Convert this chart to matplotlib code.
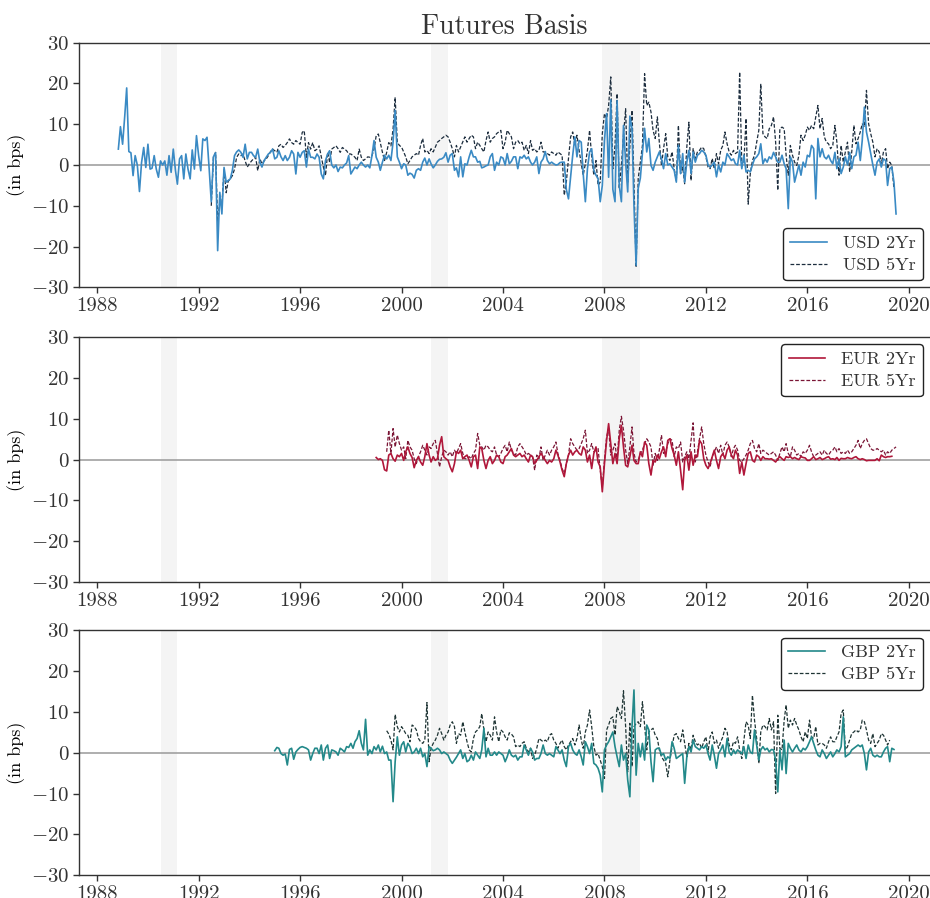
import numpy as np
import pandas as pd
import matplotlib
matplotlib.use("Agg")
import matplotlib.pyplot as plt
import matplotlib.dates as mdates

plt.rcParams["font.family"] = "serif"
plt.rcParams["font.serif"] = ["cmr10"]
plt.rcParams["mathtext.fontset"] = "cm"
plt.rcParams["axes.formatter.use_mathtext"] = True
plt.rcParams["text.color"] = "#333333"
plt.rcParams["xtick.color"] = "#333333"
plt.rcParams["ytick.color"] = "#333333"

# monthly basis series, in bps
usd_2yr_start = "1988-11-01"
usd_2yr = [
    3.9, 9.4, 5.1, 12, 18.9, 3.3, 3.0, -2.6, 2.3, 0,
    -6.5, 0.6, 4.3, -0.6, 5.1, -1, -0.8, 2.3, -1, -3,
    1, 0, 1, -2.5, 2.3, -1.8, 3.9, -1.3, -4.7, 1.5,
    2.3, -3.4, 2.7, -1, -3.4, 3.7, -1, 7.2, 2.3, -1.4,
    6.4, 6.0, 6.8, -1, -9, 2, 3, -21, -6.7, -12,
    -0.6, -4.2, -3.8, -3.4, -1.3, 2.3, 3.2, 3.7, 3.1, 1.9,
    5.1, 1.5, 3.1, 3.1, 2.3, 1.9, 3.9, 0.7, -0.5, 1.1,
    1.9, 2.7, 3.1, 3.9, 1.5, 1.9, 3.5, 2.0, 1.1, 2.3,
    1.1, 1.9, 3.5, 2.7, -2.2, 3.1, 1.9, 3.1, 3.5, -0.5,
    3.9, 1.9, 1.9, 1.5, 2.7, 1.9, -2.2, -3.4, 1.1, 2.7,
    3.5, 0, -0.7, 0, -1.6, -0.5, -0.7, 0, 0.5, 2.3,
    -2.2, -1.3, -0.5, -0.9, 0, 0.7, 0, -0.5, 0, -0.7,
    2.3, 6, 1.9, 0.7, -1.3, 0.7, 2.4, 1.5, 2.4, 1.1,
    5.6, 13.4,
    2, 0.7, -0.9, 0.3, 0, -2.5, -2, -2.3, -3.2, -1.3,
    -0.9, -1.3, 0.7, 1.7, 0, 1.5, 0.3, -0.7, 0, 0.9,
    1.4, 1.5, 1.9, 3, 0.7, 2.4, 2.8, -1.3, -0.7, -2.9,
    2, -2.9, 0.3, 0, 2, 3.6, 2, 2, 0.7, 0.9,
    -0.7, -0.5, -0.2, 0, 2, 2.8, -1.3, 0.7, 0, 2,
    1.7, 0, 2.8, 0.3, 0.9, 2, 2, -0.9, 2, 1.7,
    2.4, 1.5, 2, 0.7, 0, 0.7, 2, -2.1, 0.7, 1.5,
    3.3, 1.1, 0.3, 0.7, 0.3, 0, 0.1, 0.6, 0.7, 0.7,
    -6, -8.3, -3, 2.4, 6.9, 2, 6, 5.6, -2.1, -9,
    -0.9, 3.2, 4, -1.3, -2.5, -3.3, -9, -5, 6, 12.6,
    -3, 16, -6, -9, 15.8, -5, -9, 9.7, 0.7, -6.6,
    12, 8.9, -10, -24.6, -5.7, -3.2, 3, 9, 3.2, 6.5,
    -0.1, -1.3, 0.7, 2, 3.2, 1.5, -0.9, 2.8, 0, 0.3,
    -0.5, -1.3, -4.2, 4.8, -2.1, 2.8, -4.2, 0.7, 3.6, -2.1,
    3.2, 0.7, 2.4, 2.8, 3.6, 3.2, 2.4, 0, -0.5, 0,
    0.7, -2.9, 0, -1.7, 0.7, 0, 2.8, 2, 1.1, 1.5,
    0.3, 0, 3.6, -0.9, 2.4, -1.7, -1.3, -1.7, 0, 1.5,
    2, 2.8, 5.2, 0.3, 1.5, 0.7, 2, 1.5, 3.1, 2,
    0.7, 0.7, 2.4, 0.3, -0.9, -10.7, 2, 0.7, -4.2, -2.1,
    0, -2.5, 0.7, -0.5, 2.4, 2, 4.8, 4, -8.3, 6.5,
    2, 4, 2, 1.5, 2.4, 1.1, 0.3, 3.1, -0.9, 1.5,
    -2.1, -0.5, 2, 0, 3.1, -0.9, 2, 2.4, 5.6, 1.1,
    6, 14.2, 8.1, 5.6, 2.8, 0, -2.5, 0.7, 1.5, -0.5,
    1.5, 1.1, -5, -0.9, -0.5, -4.2, -12,
]

usd_5yr_start = "1992-07-01"
usd_5yr = [
    -10, 1.9, 3.1, -14, -9, -10, -1, -6.8, -4, -3.4,
    -2.6, -1, 1.9, 2.7, 2.3, 2.7, 1, -0.5, 0.3, 1.0,
    1.5, 1.9, -1.4, 1.5, 0.3, 1.0, 1.5, 2.3, 3.3, 3.9,
    3.5, 3.1, 4.7, 5.1, 4.3, 4.8, 5.5, 6.4, 5.5, 5.1,
    6.0, 5.5, 5.1, 8, 8.4, 1.9, 5.5, 3.9, 5.5, 3.5,
    3.9, 4.7, 2.0, -0.5, -2.6, 3.1, 0.7, 3.9, 4.3, 4.7,
    4.0, 3.1, 4.3, 3.9, 3.5, 2.7, 2.7, 2.3, 1.9, 1.1,
    3.9, 1.9, 1.1, 1.5, 2.0, 1.9, 2.3, 3.9, 7.2, 7.6,
    5.5, 3.1, 1.1, 3.1, 5.5, 4.7, 8.8, 16.6,
    5.6, 4.8, 4.4, 3.2, 2.0, 0.3, 1.1, 2.0, 2.4, 2.8,
    2.4, 4.8, 6.5, 3.2, 3.6, 2.8, 4.0, 3.2, 4.4, 5.6,
    6.0, 6.5, 6.9, 7.3, 6.9, 5.6, 4.0, 2.0, 4.8, 3.2,
    4.4, 5.6, 6.9, 5.6, 6.5, 7.3, 6.9, 4.0, 5.6, 4.8,
    4.0, 3.2, 6.0, 8.1, 5.6, 6.5, 6.9, 7.7, 8.1, 8.5,
    4.0, 5.6, 8.5, 7.7, 6.9, 4.0, 5.6, 6.0, 5.2, 5.6,
    3.6, 4.8, 2.8, 6.0, 3.6, 4.0, 3.2, 3.6, 5.6, 3.2,
    3.2, 2.8, 2.4, 3.2, 2.8, 2.4, 3.2, 2.8, 2.4, -7.4,
    -4.2, 1.6, 6.9, 8.1, 4.8, 7.3, 3.6, 0.3, -2.5, 0.3,
    3.6, 8.5, 2.0, -2.5, 1.1, -5.0, -4.2, 7.7, 12.6, 11.4,
    14.6, 21.6, -0.9, 4.8, 17.5, -5.8, -0.1, 7.3, 13.8, -4.2,
    4.8, 13.4, -4.2, -25.1, -3.3, 0.7, 4.8, 22.4, 14.6, 15.4,
    13.0, 8.5, 6.5, 11.8, 5.6, -0.1, 4.0, 7.7, 2.0, 1.1,
    3.2, -0.9, -3.8, 9.7, -2.1, -0.5, -4.6, 4.4, 10.5, -3.8,
    4.0, 1.6, 3.2, 3.6, 4.4, 4.0, 2.0, -0.5, -0.9, 1.6,
    -0.9, 2.8, 0.3, 3.6, 4.8, 8.1, 5.2, 3.2, 2.4, 3.6,
    2.8, 3.2, 22.8, -0.1, 0.7, 11.4, -9.6, -2.1, 1.1, 2.4,
    5.6, 8.5, 19.9, 7.7, 6.9, 6.5, 8.9, 9.7, 11.8, 5.6,
    -6.2, 8.9, 9.3, 8.9, 2.4, -2.5, 4.8, 2.4, 0.7, -0.1,
    2.4, 7.3, 6.0, 7.3, 9.3, 8.5, 9.7, 8.9, 11.8, 14.6,
    8.9, 11.4, 6.9, 5.6, 5.2, 4.0, 4.8, 9.7, 5.6, -2.5,
    4.8, 0.7, 3.2, 5.6, -1.7, 3.2, 9.7, 5.2, 6.5, 8.1,
    10.1, 9.3, 18.3, 10.1, 7.7, 5.6, 2.0, 4.0, 3.2, 0.3,
    3.2, 4.0, -0.9, 0.7, -0.1, -5.8,
]

eur_2yr_start = "1999-01-01"
eur_2yr = [
    0.5, 0, 0.2, -0.2, -2.5, -2.8, 1.1, 1.5, 0.2, -0.4,
    1.1, 0.7, 1.5, -0.2, 1.9, 3.1, 1.5, 0.5, -2.0, -0.2,
    0.7, -0.6, -1.4, 0.7, 3.9, 1.1, -0.6, 0.7, -0.2, 0.2,
    3.5, 5.6, 0.7, 0.2, -0.2, -1.8, -3.0, -1.0, 1.9, 1.5,
    2.3, 0.2, 0.7, 1.1, -0.2, -1.8, 0.7, 1.1, -2.2, 3.1,
    2.7, -0.2, -2.2, -0.2, 0.7, -1.0, -0.2, 1.1, 0.7, -0.6,
    -1.0, 0.7, 1.1, 1.9, 2.7, 1.1, 0.7, 1.1, 1.5, 0.7,
    1.1, 0.2, -0.6, 1.1, 0.7, -1.0, -0.2, 0.7, 1.5, 0.7,
    -0.2, -1.0, -0.2, -0.6, 0.2, 2.3, 1.1, -0.6, -2.6, -4.2,
    -1.0, 1.1, 2.3, 1.1, 1.9, 2.3, 1.5, 1.1, 3.1, 2.3,
    -0.6, 1.1, -2.2, 1.5, 3.1, -0.6, -1.8, -7.9, -1.0, 4.7,
    8.8, 3.9, -1.0, 1.5, -1.0, 5.1, 8.4, 3.1, -1.4, -1.8,
    0.7, 3.5, -0.2, -1.0, -1.0, 1.9, 0.7, 4.3, 3.5,
    -1.0, -3.8, -0.2, -0.6, 1.1, 0.2, 1.9, 3.1, 0.7, 4.7,
    5.1, 2.7, 1.1, -1.4, 1.9, -2.6, -7.4, -0.2, 1.1, -2.6,
    1.9, -1.4, 1.1, 0.7, 4.7, 3.9, 0.2, -1.4, -2.2, -1.0,
    0.7, 2.3, -0.2, -2.2, 0.7, 1.5, 0.2, 2.3, 3.1, 1.1,
    0.2, 2.3, 1.1, -3.4, -0.6, -3.8, -1.0, 1.5, 1.9, -0.2,
    -0.6, 1.1, 0.7, -0.2, 0.7, 0.2, 0.2, 0.1, 0.2, -0.2,
    -0.6, 0.2, 0.7, 0.2, -0.2, 0.7, 0.5, 0.7, 0.2, 0.5,
    0.2, 0, 0.7, 0.5, 0.4, -0.2, -0.2, 0.2, 0.7, 0,
    0.2, 0.5, 0, 0.2, 0.5, 0.7, 0.1, 0.2, 0, 0.5,
    -0.2, 0.3, 0.2, 0.2, 0.5, 0.3, 0.2, 0.5, 0.7, 0.2,
    0, 0.2, 0, -0.3, -0.2, -0.2, -0.2, -0.2, 0.2, -0.3,
    1.1, 0.7, 0.5, 0.7, 0.7, 0.8,
]

eur_5yr_start = "1999-06-01"
eur_5yr = [
    1.9, 7.2, 1.5, 7.6, 3.1, 6.0, 3.9, 2.3, 3.1, 0.2,
    4.7, 3.1, 2.3, 0.2, -1.0, 0.7, 1.9, 3.5, 2.3, 1.1,
    3.1, 2.7, 3.9, 4.7, 1.5, -1.8, 0.7, 2.3, 1.9, 1.1,
    1.9, 0.7, 2.3, 1.5, 2.7, 3.9, 1.5, 0.2, 0.2, 0.7,
    0.2, 1.5, 2.3, 6.4, 3.5, 3.1, 2.3, 3.5, 3.1, 2.3,
    1.9, 3.1, 1.1, 0.7, 1.5, 2.7, 3.5, 1.9, 4.3, 2.3,
    1.5, 1.1, 3.1, 3.9, 3.1, 2.3, 1.1, 1.5, 1.1, 0.7,
    -2.6, 1.1, 0.2, 3.1, -0.2, 1.1, 2.3, 1.1, 2.3, 3.1,
    4.3, 1.5, -0.2, -2.2, -3.4, -1.0, 1.1, 5.1, 3.9, 3.1,
    2.3, 2.7, 3.9, 5.1, 7.2, 1.5, 2.3, 3.9, 1.9, 2.3,
    2.7, -2.6, -6.7, -0.2, 5.6, 7.6, 1.1, 2.3, 3.9, -0.2,
    7.2, 10.6, 7.2, 2.3, -1.0, 3.1, 8.0, 1.5, -0.6, -0.2,
    1.5, 2.3, 3.9, 5.1, 4.3,
    3.1, -1.4, 1.5, -0.2, 2.3, 6.0, 1.5, 1.9, 3.9, 5.1,
    4.7, 0.7, 3.1, 2.7, 4.3, -0.6, 0.7, 1.9, 0.2, 4.7,
    9.0, -0.6, 1.9, 5.1, 8.0, 3.9, 1.1, -0.6, -1.8, 0.7,
    1.9, 3.1, 1.5, 3.5, 1.1, 3.5, 4.3, 3.1, 0.7, 2.7,
    3.5, 2.3, -0.2, -0.6, 0.2, 1.1, 2.3, 3.9, 4.7, 2.7,
    1.9, 3.9, 1.5, 2.3, 1.9, 1.5, 1.1, 1.5, 1.9, 1.1,
    -0.2, 1.5, 3.1, 1.9, 3.9, 1.5, 0.7, 3.1, 2.3, 1.1,
    1.5, 0.7, 1.9, 1.5, 2.3, 3.5, 1.9, 0.7, 1.1, 1.5,
    1.9, 1.1, 2.3, 1.5, 1.1, 1.9, 2.3, 3.1, 1.9, 2.7,
    1.5, 1.9, 1.5, 2.3, 1.5, 1.9, 2.7, 3.5, 4.7, 2.7,
    3.9, 4.7, 5.1, 3.9, 2.7, 2.3, 2.3, 2.7, 2.3, 1.9,
    2.3, 1.1, 1.9, 1.5, 2.3, 2.7, 3.1,
]

gbp_2yr_start = "1995-01-01"
gbp_2yr = [
    0.5, 1.3, 1.1, -0.2, -0.6, -0.3, -3.0, 0.8, 1.1, -1.6,
    0.2, 0.8, 1.3, 1.5, 1.3, 1.1, 0.7, -1.8, -0.2, 1.1,
    1.1, -0.2, 1.9, -1.8, 1.1, 1.9, -1.4, 0.7, 0.5, 0.2,
    -0.6, 1.1, 0.7, 0.2, 1.5, 1.3, 2.3, 1.1, 2.7, 3.5,
    5.4, 2.3, 0.7, 8.2, -0.6, 0.7, -0.2, 1.5, 0.7, 1.9,
    0.2, 1.6, -0.2, 0.2, -1.8, -1.8, -12.0, -2.2, 3.9, -0.6,
    1.9, 2.7, 0.2, 2.3, 1.5, -0.2, 0.2, 1.1, -0.2, 1.1,
    -1.0, -0.2, -3.4, 1.5, 1.1, 0.5, 0.7, 1.1, 0.7, -0.2,
    0.2, -0.2, -0.6, -1.8, -2.6, -1.8, -1.1, -0.2,
    0.7, -1.4, -0.2, -2.2, -1.8, -0.6, -1.8, 0.2, -0.6, -1.4,
    0.7, 6.0, -1.0, 1.1, -0.6, -0.6, 0.2, -0.6, 0.2, -0.2,
    -0.6, -2.2, -1.0, 0.7, -0.6, -1.0, -0.6, -1.8, -1.0, -1.0,
    1.9, 0.7, -0.6, 1.1, 0.2, -1.8, -1.4, -1.4, -0.2, 1.9,
    -0.2, -0.6, -0.2, -0.6, -1.0, 1.5, 0.7, -0.2, 0.7, -1.8,
    -3.4, 1.5, 2.3, 0.7, -0.2, -0.6, 0.7, -1.0, -3.0, 2.7,
    1.5, -0.2, 2.3, -2.6, -3.0, -3.8, -5.5, -9.6, 0.7, 1.9,
    2.7, 3.9, 5.1, 1.5, -1.0, -3.4, 1.9, -1.8, -0.2, -6.7,
    -10.8, 6.4, 15.4, -5.5, 2.3, -1.0, 2.3, -1.8, 6.8, 5.6,
    -2.2, -7.1, 0.7, 1.1, 1.1, -0.6, -0.2, -1.8, -1.0, -1.4,
    2.7, 1.1, -1.4, -1.0, -0.6,
    -0.2, -7.5, -1.0, 1.5, 0.2, 3.1, 1.5, 1.1, 0.7, 1.5,
    1.1, 1.9, -0.2, -1.8, 1.9, -0.6, -3.8, -0.2, 0.7, 1.9,
    -1.0, 3.5, 0.2, -0.6, 0.7, -0.2, 0.7, 0.2, -0.2, 1.5,
    -1.4, 1.9, 0.2, -0.2, 5.6, 1.9, -1.8, 0.7, 1.5, 0.7,
    1.1, 0.2, 0.8, 0.7, -1.8, -9.6, 0.7, -4.2, 3.1, -5.1,
    2.3, 1.1, 0.2, 1.1, 1.9, 0.7, 0.2, 1.1, 0.7, 1.5,
    2.7, 3.9, 2.3, 0.7, -0.6, -1.0, 0.7, -0.2, -1.4, -0.6,
    0.2, -1.0, -0.2, 0.7, 0.2, 1.5, 8.8, -1.0, -0.6, -0.2,
    0.7, 1.1, 1.5, 1.9, 1.5, 1.9, -0.2, -4.2, 0.2, 1.1,
    -0.6, -1.0, -0.6, -1.0, -1.0, 0.2, 1.1, 1.5, -2.2, 1.1,
    0.8,
]

gbp_5yr_start = "1999-06-01"
gbp_5yr = [
    5.4, 4.6, 3.1, 0.7, 9.4, 6.4, 5.1, 6.4, 5.6, 4.7,
    4.3, 2.7, 6.8, 6.4, 5.6, 3.5, 2.7, 2.3, 3.1, 12.3,
    -2.2, 1.1, 2.3, 3.1, 4.3, 6.0, 4.7, 3.1, 4.3, 5.1,
    6.8, 7.6, 6.4, 2.3, 4.7, 4.3,
    7.6, 5.1, 2.7, 0.7, 0.2, 3.5, 5.1, 5.6, 6.4, 9.6,
    5.6, 2.7, 5.1, 4.3, 3.1, 8.8, 5.1, 2.7, 5.6, 5.1,
    3.9, 3.1, 4.9, 4.6, 3.9, 1.5, 1.9, 1.5, 2.3, 2.7,
    1.1, 0.2, 1.1, -1.4, -0.6, 1.1, 3.5, 3.1, 2.7, 3.1,
    2.7, 4.3, 4.7, 3.1, 2.3, 1.1, 2.3, 3.1, 1.5, 0.7,
    1.9, 2.7, 3.5, 1.9, 3.5, 6.8, 3.1, 1.1, 5.1, 6.8,
    10.5, 6.4, 1.5, -0.6, -0.2, -1.8, -3.4, -6.3, 5.6, 6.8,
    8.4, 8.8, 4.3, 11.3, 10.1, 8.4, 15.2, 6.4, -4.7, 7.2,
    -3.4, 6.4, 7.2, 7.6, 6.4, 12.5, 6.8, 0.7, 5.1, 5.6,
    6.0, 4.3, 3.5, 0.7, -1.0, -1.8, -2.6, -5.9, -1.8, 1.5,
    4.3, 4.7, 3.5,
    2.7, 5.6, 2.3, -1.0, 2.3, 0.7, 4.3, 2.7, 1.9, 2.3,
    1.1, 2.7, 3.9, 0.2, 3.9, 5.1, 2.3, 3.1, 1.1, 2.7,
    3.9, 6.0, 5.1, 1.9, 0.7, 2.7, 2.3, 3.9, 0.7, -1.4,
    3.1, 7.6, 6.8, 3.5, 14.1, 8.0, 3.5, -2.6, 5.1, 6.8,
    6.4, 5.6, 8.4, 5.6, 7.6, -10.0, 9.2, 1.1, 0.7, 8.0,
    11.7, 6.0, 8.0, 6.8, 8.4, 6.8, 5.6, 3.9, 2.7, 5.1,
    3.5, 8.0, 3.9, 3.5, 6.4, 1.9, 2.3, 2.3, 1.9, 1.1,
    2.7, 3.9, 2.7, 2.7, 3.9, 5.1, 9.6, 10.5, 0.7, 1.5,
    3.1, 4.7, 5.1, 5.6, 5.1, 5.6, 8.0, 7.6, 5.6, 3.1,
    2.3, 4.7, 1.5, 2.3, 3.1, 4.7, 4.3, 3.1, 1.9, 3.1,
]

recessions = [("1990-07-01", "1991-03-01"),
              ("2001-03-01", "2001-11-01"),
              ("2007-12-01", "2009-06-01")]

panels = [
    ("USD", usd_2yr_start, usd_2yr, usd_5yr_start, usd_5yr, "#3a8ac4", "#1c2d3e", "lower right"),
    ("EUR", eur_2yr_start, eur_2yr, eur_5yr_start, eur_5yr, "#b0173a", "#7a1535", "upper right"),
    ("GBP", gbp_2yr_start, gbp_2yr, gbp_5yr_start, gbp_5yr, "#23898a", "#1e3434", "upper right"),
]

fig = plt.figure(figsize=(9.3, 8.98), dpi=100)
bottoms = [0.680, 0.352, 0.0255]

for (ccy, s2, v2, s5, v5, c2, c5, loc), b in zip(panels, bottoms):
    ax = fig.add_axes([0.085, b, 0.915, 0.2725])
    for r0, r1 in recessions:
        ax.axvspan(pd.Timestamp(r0), pd.Timestamp(r1), color="#f4f4f4", lw=0, zorder=0)
    ax.axhline(0, color="#999999", lw=1.1, zorder=1)
    x2 = pd.date_range(s2, periods=len(v2), freq="MS")
    x5 = pd.date_range(s5, periods=len(v5), freq="MS")
    ax.plot(x2, v2, color=c2, lw=1.2, label=f"{ccy} 2Yr", zorder=3)
    ax.plot(x5, v5, color=c5, lw=0.9, ls=(0, (3, 1.5)), label=f"{ccy} 5Yr", zorder=2)
    ax.set_ylim(-30, 30)
    ax.set_yticks([-30, -20, -10, 0, 10, 20, 30])
    ax.set_xlim(pd.Timestamp("1987-04-15"), pd.Timestamp("2020-11-01"))
    ax.xaxis.set_major_locator(mdates.YearLocator(4))
    ax.xaxis.set_major_formatter(mdates.DateFormatter("%Y"))
    ax.tick_params(labelsize=15, direction="out", length=4, width=1, pad=3)
    ax.set_ylabel("(in bps)", fontsize=13, labelpad=4)
    for side in ["left", "top", "bottom"]:
        ax.spines[side].set_color("#333333")
        ax.spines[side].set_linewidth(1)
    ax.spines["right"].set_visible(False)
    leg = ax.legend(loc=loc, fontsize=13, frameon=True, fancybox=True,
                    handlelength=2.0, borderpad=0.4, labelspacing=0.35,
                    handletextpad=0.9, borderaxespad=0.4)
    leg.get_frame().set_edgecolor("#222222")
    leg.get_frame().set_linewidth(1.0)
    leg.get_frame().set_alpha(1)
    leg.set_zorder(1.5)
    if ccy == "USD":
        ax.set_title("Futures Basis", fontsize=20, pad=6)

fig.savefig("out.png", dpi=100)
